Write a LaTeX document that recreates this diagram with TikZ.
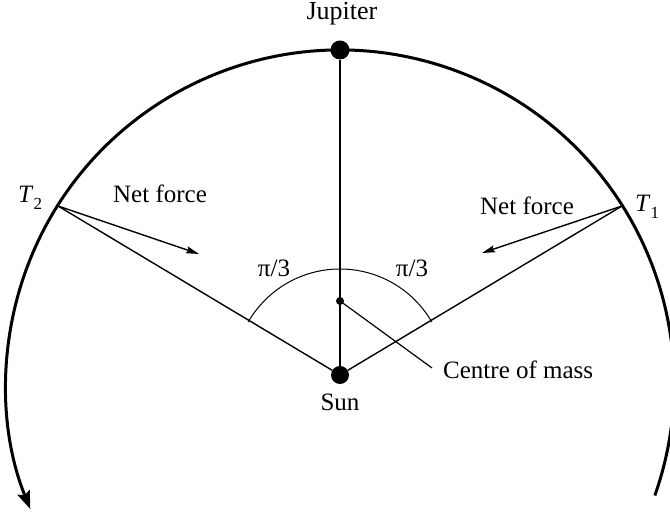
\documentclass[tikz,border=0pt]{standalone}
\usepackage{fontspec}
\setmainfont{Liberation Serif}
\usetikzlibrary{arrows.meta}
\begin{document}
\begin{tikzpicture}[x=1pt,y=1pt,
  body/.style={circle,fill=black,inner sep=0pt},
  lbl/.style={font=\fontsize{25}{29}\selectfont, inner sep=0pt, anchor=base},
  thinline/.style={line width=1.4pt},
  thickline/.style={line width=2.6pt},
  bigarc/.style={line width=3pt,-{Stealth[length=18pt,width=13pt,inset=3pt]}},
  force/.style={line width=1.4pt,-{Stealth[length=13pt,width=7pt,inset=2pt]}},
  anglearc/.style={line width=1pt},
  pointer/.style={line width=1.2pt}]
\useasboundingbox (0,0) rectangle (670,513);
\clip (0,0) rectangle (670,513);
\coordinate (C) at (340,129);
\node[body,minimum size=18pt] (S) at (340,138) {};
\node[body,minimum size=19pt] (J) at (340,463) {};
\node[body,minimum size=8pt] (M) at (340,212) {};
\coordinate (T1) at (622,307);
\coordinate (T2) at (58,307);
\coordinate (F1) at (482,260);
\coordinate (F2) at (199,259);
\coordinate (P) at (432,145);
% orbit
\draw[bigarc] ([shift={(-19.5:334pt)}]C) arc[start angle=-19.5, end angle=202, radius=334pt];
% lines
\draw[thinline] (S) -- (J);
\draw[thickline] (S) -- (M);
\draw[thinline] (S) -- (T1);
\draw[thinline] (S) -- (T2);
\draw[force] (T2) -- (F2);
\draw[force] (T1) -- (F1);
\draw[pointer] (M.center) -- (P);
\draw[anglearc] ([shift={(30:106pt)}]S.center) arc[start angle=30, end angle=150, radius=106pt];
% labels
\node[lbl,font=\fontsize{26}{30}\selectfont] (Jl) at (342,493) {Jupiter};
\node[lbl] (Sl) at (340,102) {Sun};
\node[lbl,anchor=base west] (T2l) at (18,310) {\textit{T}\raisebox{-7pt}{\fontsize{17}{19}\selectfont 2}};
\node[lbl,anchor=base west] (T1l) at (635,301) {\textit{T}\raisebox{-7pt}{\fontsize{17}{19}\selectfont 1}};
\node[lbl] (N2) at (160,310) {Net force};
\node[lbl] (N1) at (527,298) {Net force};
\node[lbl] (A2) at (274,236) {π/3};
\node[lbl] (A1) at (412,236) {π/3};
\node[lbl,anchor=base west] (Cm) at (443,134) {Centre of mass};
\end{tikzpicture}
\end{document}
